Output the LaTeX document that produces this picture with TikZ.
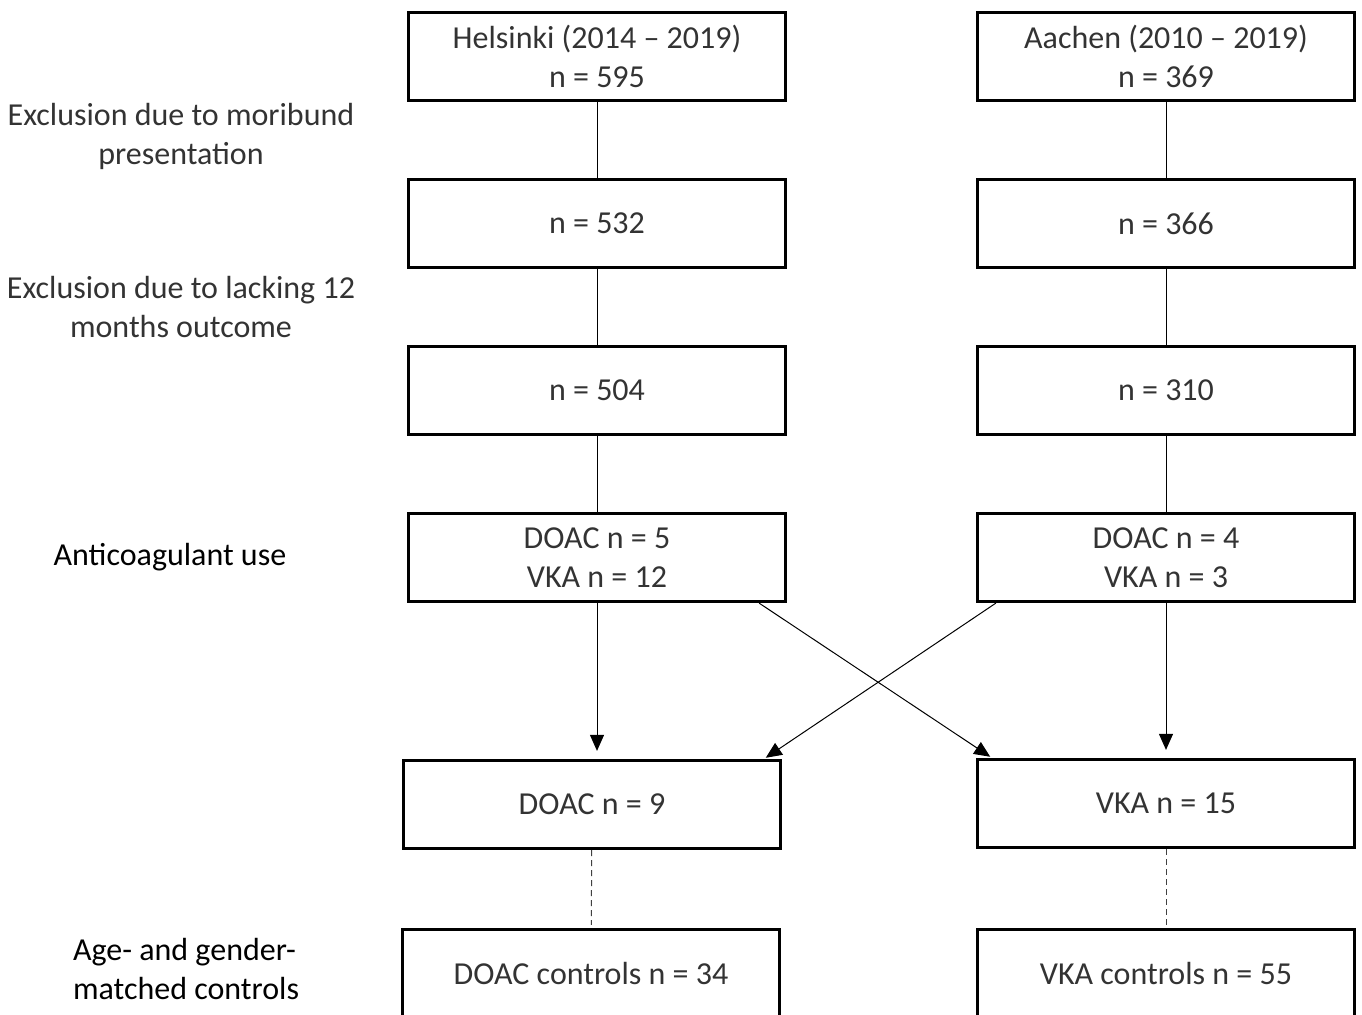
\documentclass[tikz,border=0pt]{standalone}
\usepackage{fontspec}
\setmainfont{Carlito}
\usetikzlibrary{positioning, arrows.meta}
\tikzstyle{box} = [draw, rectangle, line width=1.6pt,
    minimum height=44pt, minimum width=188.5pt, align=center, text=black!80]
\tikzstyle{side} = [align=center, text=black!80]
\tikzstyle{link} = [line width=0.5pt]
\tikzstyle{arr} = [link, -{Triangle[width=7pt,length=8pt]}]
\tikzstyle{match} = [link, black!75, dash pattern=on 3pt off 2pt]

\begin{document}
\begin{tikzpicture}[x=0.5pt, y=-0.5pt, node distance=83.5pt,
    font=\fontsize{16}{19.5}\selectfont]

        \path[use as bounding box, clip] (0,0) rectangle (1362,1015);

        % Helsinki
        \node[box] (hel) at (597,56.5) {Helsinki (2014 -- 2019)\\n = 595};
        \node[box, below of=hel](hel2){n = 532};
        \node[box, below of=hel2](hel3){n = 504};
        \node[box, below of=hel3](hel4){DOAC n = 5\\VKA n = 12};

        % Aachen
        \node[
            box,
            right of=hel,
            node distance=284.5pt
        ](aac){Aachen (2010 -- 2019)\\n = 369};
        \node[box, below of=aac](aac2){n = 366};
        \node[box, below of=aac2](aac3){n = 310};
        \node[box, below of=aac3](aac4){DOAC n = 4\\VKA n = 3};

        % pooled groups and controls
        \node[box] (doac) at (592,804.5) {DOAC n = 9};
        \node[box] (vka) at (1166,803.5) {VKA n = 15};
        \node[box] (doacctl) at (591,973.5) {DOAC controls n = 34};
        \node[box] (vkactl) at (1166,973.5) {VKA controls n = 55};

        % row labels
        \node[side] (excl1) at (181,136.5) {Exclusion due to moribund\\presentation};
        \node[side] (excl2) at (181,307.5) {Exclusion due to lacking 12\\months outcome};
        \node[text=black] (antic) at (170,557) {Anticoagulant use};
        \node[
            text=black,
            align=left,
            anchor=west
        ] (ctrl) at (66,969.5) {Age- and gender-\\matched controls};

        \draw[link] (hel) -- (hel2);
        \draw[link] (hel2) -- (hel3);
        \draw[link] (hel3) -- (hel4);
        \draw[link] (aac) -- (aac2);
        \draw[link] (aac2) -- (aac3);
        \draw[link] (aac3) -- (aac4);

        \draw[arr, shorten >=4pt] (hel4) -- (hel4 |- doac.north);
        \draw[arr, shorten >=4pt] (aac4) -- (vka);
        \draw[arr, shorten >=1pt] ([xshift=-14pt]hel4.south east) -- ([xshift=8pt]vka.north west);
        \draw[arr, shorten >=1pt] ([xshift=10pt]aac4.south west) -- ([xshift=-9pt]doac.north east);

        \draw[match, shorten >=1.5pt] (doac) -- (doacctl);
        \draw[match] (vka) -- (vkactl);
    \end{tikzpicture}
\end{document}
